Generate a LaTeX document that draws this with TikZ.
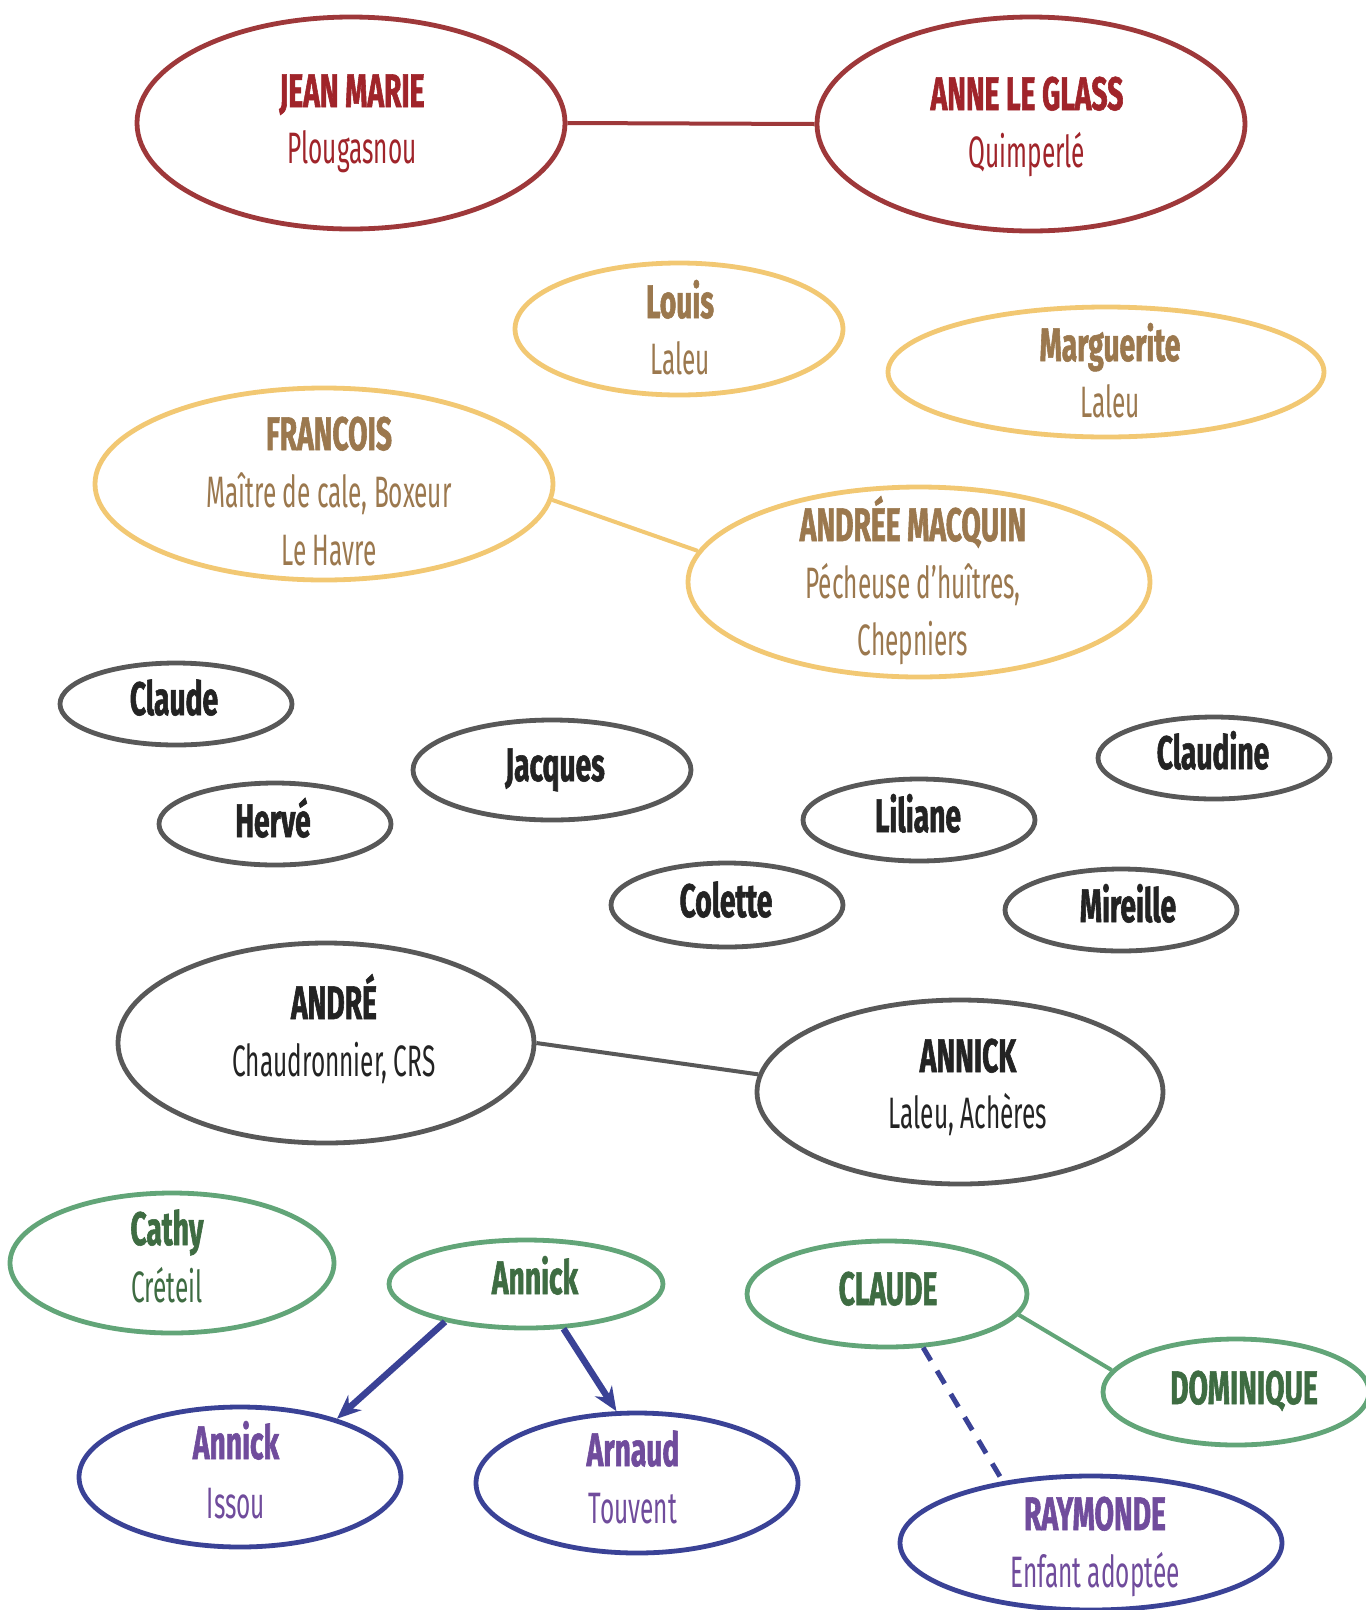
\documentclass[tikz,border=0pt]{standalone}
\usepackage{fontspec}
\usetikzlibrary{shapes.geometric,arrows.meta}
\newfontfamily\bcond{Fira Sans}[FakeStretch=0.6,BoldFeatures={FakeBold=1.2}]
\newfontfamily\rcond{Fira Sans}[FakeStretch=0.555]
\definecolor{redline}{RGB}{158,56,58}
\definecolor{redtext}{RGB}{160,36,42}
\definecolor{yelline}{RGB}{242,200,115}
\definecolor{yeltext}{RGB}{155,120,78}
\definecolor{grayline}{RGB}{88,88,88}
\definecolor{graytext}{RGB}{35,35,35}
\definecolor{greenline}{RGB}{98,165,120}
\definecolor{greentext}{RGB}{62,108,66}
\definecolor{blueline}{RGB}{58,66,150}
\definecolor{purpletext}{RGB}{112,76,156}
\begin{document}
\begin{tikzpicture}[x=1pt,y=-1pt,
  pers/.style={ellipse,inner sep=0pt,line width=4.8pt,fill=white},
  redell/.style={pers,draw=redline},
  yelell/.style={pers,draw=yelline},
  grayell/.style={pers,draw=grayline},
  greenell/.style={pers,draw=greenline},
  blueell/.style={pers,draw=blueline},
  tone/.style={anchor=base,inner sep=0pt,font=\bcond\bfseries\fontsize{47}{56}\selectfont},
  ttwo/.style={anchor=base,inner sep=0pt,font=\rcond\fontsize{44}{56}\selectfont},
  link/.style={line width=4pt},
  arr/.style={line width=6.5pt,draw=blueline,-{Stealth[length=24pt,width=20pt]}}
]
\useasboundingbox (0,0) rectangle (1366,1610);

% generation 1
\node[redell,minimum width=428pt,minimum height=212pt] (jean) at (351,123) {};
\node[redell,minimum width=428pt,minimum height=214pt] (anne) at (1031,124) {};
\node[tone,text=redtext] (jean1) at (352,107) {JEAN MARIE};
\node[ttwo,text=redtext] (jean2) at (352,163) {Plougasnou};
\node[tone,text=redtext] (anne1) at (1027,110) {ANNE LE GLASS};
\node[ttwo,text=redtext] (anne2) at (1027,167) {Quimperlé};

% generation 2
\node[yelell,minimum width=328pt,minimum height=132pt] (louis) at (679,329) {};
\node[yelell,minimum width=436pt,minimum height=130pt] (marg) at (1106,372) {};
\node[yelell,minimum width=458pt,minimum height=192pt] (franc) at (324,484) {};
\node[yelell,minimum width=462pt,minimum height=190pt] (andree) at (919,582) {};
\node[tone,text=yeltext] (louis1) at (680,318) {Louis};
\node[ttwo,text=yeltext] (louis2) at (680,374) {Laleu};
\node[tone,text=yeltext] (marg1) at (1110,361) {Marguerite};
\node[ttwo,text=yeltext] (marg2) at (1110,417) {Laleu};
\node[tone,text=yeltext] (franc1) at (329,450) {FRANCOIS};
\node[ttwo,text=yeltext] (franc2) at (329,507) {Maître de cale, Boxeur};
\node[ttwo,text=yeltext] (franc3) at (329,565) {Le Havre};
\node[tone,text=yeltext] (andree1) at (913,541) {ANDRÉE MACQUIN};
\node[ttwo,text=yeltext] (andree2) at (913,598) {Pécheuse d’huîtres,};
\node[ttwo,text=yeltext] (andree3) at (913,655) {Chepniers};

% generation 3
\node[grayell,minimum width=232pt,minimum height=82pt] (claude) at (176,704) {};
\node[grayell,minimum width=232pt,minimum height=82pt] (herve) at (275,824) {};
\node[grayell,minimum width=278pt,minimum height=100pt] (jacques) at (552,770) {};
\node[grayell,minimum width=232pt,minimum height=84pt] (colette) at (727,905) {};
\node[grayell,minimum width=232pt,minimum height=82pt] (liliane) at (919,820) {};
\node[grayell,minimum width=232pt,minimum height=82pt] (claudine) at (1214,758) {};
\node[grayell,minimum width=232pt,minimum height=82pt] (mireille) at (1121,910) {};
\node[grayell,minimum width=416pt,minimum height=200pt] (andre) at (326,1043) {};
\node[grayell,minimum width=406pt,minimum height=184pt] (annick) at (960,1092) {};
\node[tone,text=graytext] (claude1) at (174,715) {Claude};
\node[tone,text=graytext] (herve1) at (273,837) {Hervé};
\node[tone,text=graytext] (jacques1) at (555,781) {Jacques};
\node[tone,text=graytext] (colette1) at (726,917) {Colette};
\node[tone,text=graytext] (liliane1) at (918,832) {Liliane};
\node[tone,text=graytext] (claudine1) at (1213,769) {Claudine};
\node[tone,text=graytext] (mireille1) at (1128,922) {Mireille};
\node[tone,text=graytext] (andre1) at (334,1019) {ANDRÉ};
\node[ttwo,text=graytext] (andre2) at (334,1076) {Chaudronnier, CRS};
\node[tone,text=graytext] (annick1) at (968,1072) {ANNICK};
\node[ttwo,text=graytext] (annick2) at (968,1128) {Laleu, Achères};

% generation 4
\node[greenell,minimum width=324pt,minimum height=140pt] (cathy) at (172,1263) {};
\node[greenell,minimum width=274pt,minimum height=88pt] (annickv) at (526,1284) {};
\node[greenell,minimum width=280pt,minimum height=106pt] (claudeb) at (887,1294) {};
\node[greenell,minimum width=266pt,minimum height=106pt] (domin) at (1236,1392) {};
\node[tone,text=greentext] (cathy1) at (167,1245) {Cathy};
\node[ttwo,text=greentext] (cathy2) at (167,1302) {Créteil};
\node[tone,text=greentext] (annickv1) at (535,1294) {Annick};
\node[tone,text=greentext] (claudeb1) at (888,1305) {CLAUDE};
\node[tone,text=greentext] (domin1) at (1244,1404) {DOMINIQUE};

% generation 5
\node[blueell,minimum width=382pt,minimum height=134pt] (raym) at (1091,1543) {};
\node[blueell,minimum width=322pt,minimum height=140pt] (issou) at (240,1477) {};
\node[blueell,minimum width=322pt,minimum height=140pt] (arnaud) at (637,1483) {};
\node[tone,text=purpletext] (raym1) at (1095,1530) {RAYMONDE};
\node[ttwo,text=purpletext] (raym2) at (1095,1587) {Enfant adoptée};
\node[tone,text=purpletext] (issou1) at (236,1459) {Annick};
\node[ttwo,text=purpletext] (issou2) at (236,1518) {Issou};
\node[tone,text=purpletext] (arnaud1) at (633,1466) {Arnaud};
\node[ttwo,text=purpletext] (arnaud2) at (633,1523) {Touvent};

% connectors
\draw[link,draw=redline] (jean.east) -- (anne.west);
\draw[link,draw=yelline] (franc.-4) -- (andree.172);
\draw[link,draw=grayline] (andre.0) -- (annick.175);
\draw[link,draw=greenline] (claudeb.-9) -- (domin.170);
\draw[link,draw=blueline,line width=5pt,dash pattern=on 15pt off 12pt] (claudeb.-56) -- (raym.145);
\draw[arr] (annickv.205) -- (issou.31);
\draw[arr] (annickv.-50) -- (arnaud.106);
\end{tikzpicture}
\end{document}
